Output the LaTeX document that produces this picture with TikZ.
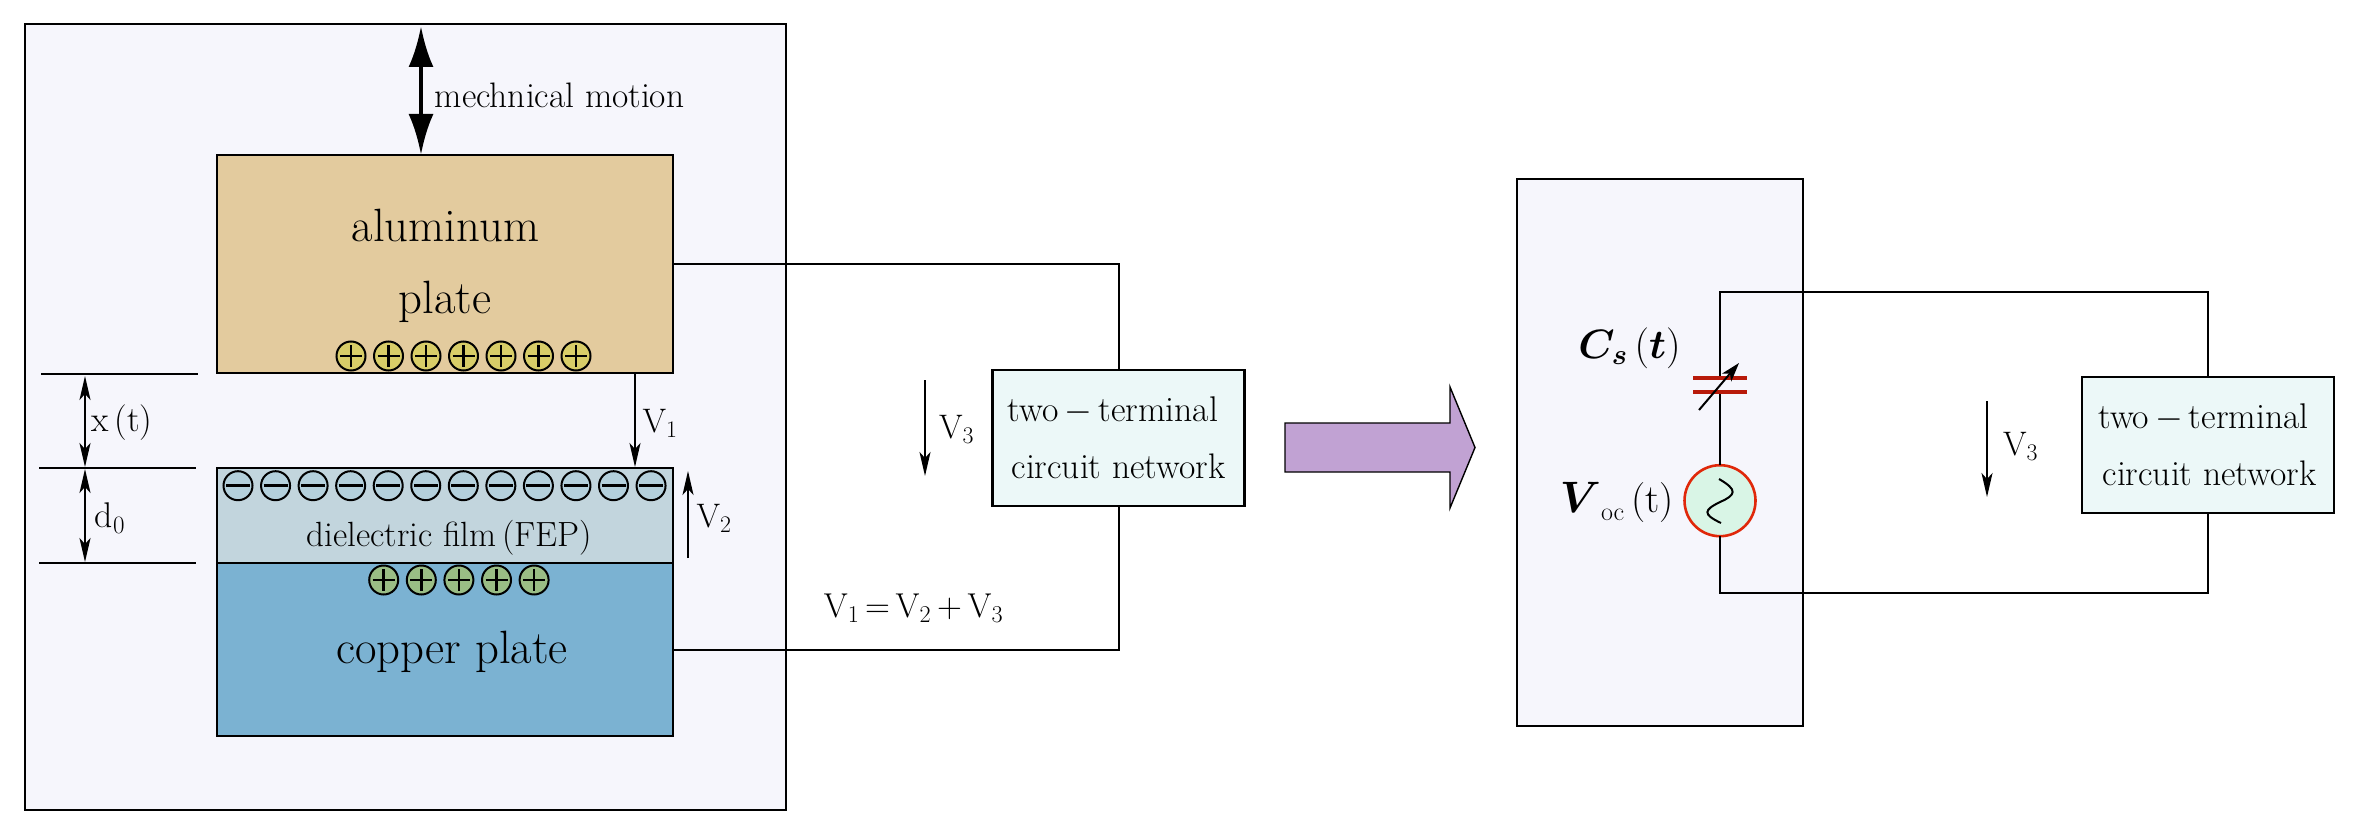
\documentclass[tikz,border=0pt]{standalone}
\usepackage{fix-cm}
\usepackage{amsmath}
\usetikzlibrary{arrows.meta,calc}
\definecolor{panel}{HTML}{F6F6FC}
\definecolor{alu}{HTML}{E3CB9E}
\definecolor{film}{HTML}{C2D5DD}
\definecolor{copperc}{HTML}{7BB2D2}
\definecolor{plusy}{HTML}{D8CD68}
\definecolor{plusg}{HTML}{9ABD85}
\definecolor{minusb}{HTML}{B4D0DC}
\definecolor{netc}{HTML}{ECF8F8}
\definecolor{purp}{HTML}{C1A2D3}
\definecolor{capred}{HTML}{B81A0A}
\definecolor{srcred}{HTML}{E0280A}
\definecolor{srcfill}{HTML}{D9F5E6}
\newcommand{\fs}[1]{\fontsize{#1}{#1}\selectfont}
\tikzset{
  x=1pt,y=-1pt,
  lay/.style={draw=black,line width=2.4pt,inner sep=0pt,outer sep=0pt},
  plate/.style={lay,minimum width=456pt},
  txt/.style={inner sep=0pt,outer sep=0pt,text=black,anchor=center},
  chg/.style={circle,draw=black,line width=2pt,minimum size=29pt,inner sep=0pt,outer sep=0pt},
  sym/.style={line width=2.6pt},
  wire/.style={line width=2pt},
  dimline/.style={line width=2.4pt},
  thin arrow/.style={line width=2pt,-{Stealth[length=24pt,width=11pt,inset=6pt]}},
  dim arrow/.style={line width=2pt,{Stealth[length=24pt,width=11pt,inset=6pt]}-{Stealth[length=24pt,width=11pt,inset=6pt]}},
}
\begin{document}
\begin{tikzpicture}
\useasboundingbox (0,0) rectangle (2357,837);
\fill[white] (0,0) rectangle (2357,837);
% panels
\node[lay,fill=panel,minimum width=761pt,minimum height=786pt] (panelL) at (405.5,417) {};
\node[lay,fill=panel,minimum width=286pt,minimum height=547pt] (panelR) at (1660,452.5) {};
% plates
\node[plate,fill=alu,minimum height=218pt] (al) at (445,264) {};
\node[plate,fill=film,minimum height=95pt] (fep) at (445,515.5) {};
\node[plate,fill=copperc,minimum height=173pt] (cu) at (445,649.5) {};
% texts in plates
\node[txt,font=\fs{46.7}] (t1) at (445.5,225.5) {aluminum};
\node[txt,font=\fs{46.7}] (t2) at (445,302) {plate};
\node[txt,font=\fs{35}] (t3) at (449.5,538) {dielectric film\,(FEP)};
\node[txt,font=\fs{46.7}] (t4) at (452,652) {copper plate};
% charges
\foreach \i in {0,...,6}{
  \pgfmathsetmacro{\cx}{351+37.5*\i}
  \node[chg,fill=plusy] (pa\i) at (\cx,356) {};
  \draw[sym] (\cx-11,356) -- (\cx+11,356) (\cx,345) -- (\cx,367);
}
\foreach \i in {0,...,11}{
  \pgfmathsetmacro{\cx}{238+37.55*\i}
  \node[chg,fill=minusb] (mi\i) at (\cx,485.7) {};
  \draw[sym] (\cx-12,485.7) -- (\cx+12,485.7);
}
\foreach \i in {0,...,4}{
  \pgfmathsetmacro{\cx}{383.7+37.6*\i}
  \node[chg,fill=plusg] (pc\i) at (\cx,580) {};
  \draw[sym] (\cx-11,580) -- (\cx+11,580) (\cx,569) -- (\cx,591);
}
% mechanical arrow
\coordinate (mt) at (421,26);
\coordinate (mb) at (421,155);
\draw[line width=4.5pt,{Latex[length=41pt,width=25pt]}-{Latex[length=41pt,width=25pt]}] (mt) -- (mb);
\node[txt,font=\fs{35.4}] (mm) at (559.5,95) {mechnical motion};
% dimensions
\coordinate (d1a) at (41,374); \coordinate (d1b) at (198,374);
\coordinate (d2a) at (39,468); \coordinate (d2b) at (196,468);
\coordinate (d3a) at (39,563); \coordinate (d3b) at (196,563);
\draw[dimline] (d1a) -- (d1b);
\draw[dimline] (d2a) -- (d2b);
\draw[dimline] (d3a) -- (d3b);
\coordinate (ax1) at (85,376); \coordinate (ax2) at (85,467);
\coordinate (ax3) at (85,469); \coordinate (ax4) at (85,562);
\draw[dim arrow] (ax1) -- (ax2);
\draw[dim arrow] (ax3) -- (ax4);
\node[txt,font=\fs{35.7}] (xt) at (122,423) {x\,(t)};
\node[txt,font=\fs{35.7}] (d0) at (110,518) {d$_0$};
% voltage arrows
\coordinate (v1a) at (635,373); \coordinate (v1b) at (635,467);
\draw[thin arrow] (v1a) -- (v1b);
\node[txt,font=\fs{34}] (v1) at (660,423) {V$_1$};
\coordinate (v2a) at (688,558); \coordinate (v2b) at (688,471);
\draw[thin arrow] (v2a) -- (v2b);
\node[txt,font=\fs{34}] (v2) at (714,518) {V$_2$};
\coordinate (v3a) at (925,380); \coordinate (v3b) at (925,476);
\draw[thin arrow] (v3a) -- (v3b);
\node[txt,font=\fs{34}] (v3) at (956.5,429) {V$_3$};
\node[txt,font=\fs{34.5}] (eq) at (913.5,608) {V$_1$$\,$=$\,$V$_2$$\,$+$\,$V$_3$};
% two-terminal network L
\node[lay,fill=netc,minimum width=252pt,minimum height=136pt] (netL) at (1118.5,438) {};
\node[txt,font=\fs{35.7}] (nl1) at (1113,411) {two\,$-$\,terminal};
\node[txt,font=\fs{35.5}] (nl2) at (1118.5,466) {circuit network};
\draw[wire] (al.east) -| (netL.north);
\draw[wire] (cu.east) -| (netL.south);
% big arrow
\draw[line width=1.4pt,fill=purp] (1285,423) -- (1450,423) -- (1450,387) -- (1475,447.5) -- (1450,508) -- (1450,472) -- (1285,472) -- cycle;
% right circuit
\node[lay,fill=netc,minimum width=252pt,minimum height=136pt] (netR) at (2208,445) {};
\node[circle,draw=srcred,fill=srcfill,line width=2.6pt,minimum size=71pt,inner sep=0pt,outer sep=0pt] (src) at (1720,500.7) {};
\coordinate (capa) at (1720,378);
\coordinate (capb) at (1720,392);
\coordinate (ctl) at (1720,292);
\coordinate (cbl) at (1720,593);
\draw[wire] (netR.north) |- (ctl) -- (capa);
\draw[wire] (capb) -- (src.north);
\draw[wire] (src.south) -- (cbl) -| (netR.south);
\coordinate (p1a) at (1693,378); \coordinate (p1b) at (1747,378);
\coordinate (p2a) at (1693,392); \coordinate (p2b) at (1747,392);
\draw[capred,line width=3.2pt] (p1a) -- (p1b);
\draw[capred,line width=3.2pt] (p2a) -- (p2b);
\coordinate (va) at (1699,410); \coordinate (vb) at (1739,363);
\draw[line width=2pt,-{Stealth[length=19pt,width=12pt,inset=5pt]}] (va) -- (vb);
\coordinate (w1) at (1719,479);
\coordinate (w2) at (1721,523);
\draw[line width=2pt] (w1) .. controls (1738,490) and (1736,495) .. (1720,502) .. controls (1704,510) and (1702,514) .. (w2);
\node[txt,font=\fs{41}] (cs) at (1629.5,348) {$\boldsymbol{C_s}\,(\boldsymbol{t})$};
\node[txt] (voc) at (1617,502) {\fs{44}$\boldsymbol{V}$\raisebox{-8pt}{\fs{26}oc}\,\fs{40}(t)};
\coordinate (v4a) at (1987,401); \coordinate (v4b) at (1987,497);
\draw[thin arrow] (v4a) -- (v4b);
\node[txt,font=\fs{34}] (v4) at (2020.5,446) {V$_3$};
\node[txt,font=\fs{35.7}] (nr1) at (2203.5,418) {two\,$-$\,terminal};
\node[txt,font=\fs{35.5}] (nr2) at (2209.5,473) {circuit network};
\end{tikzpicture}
\end{document}
